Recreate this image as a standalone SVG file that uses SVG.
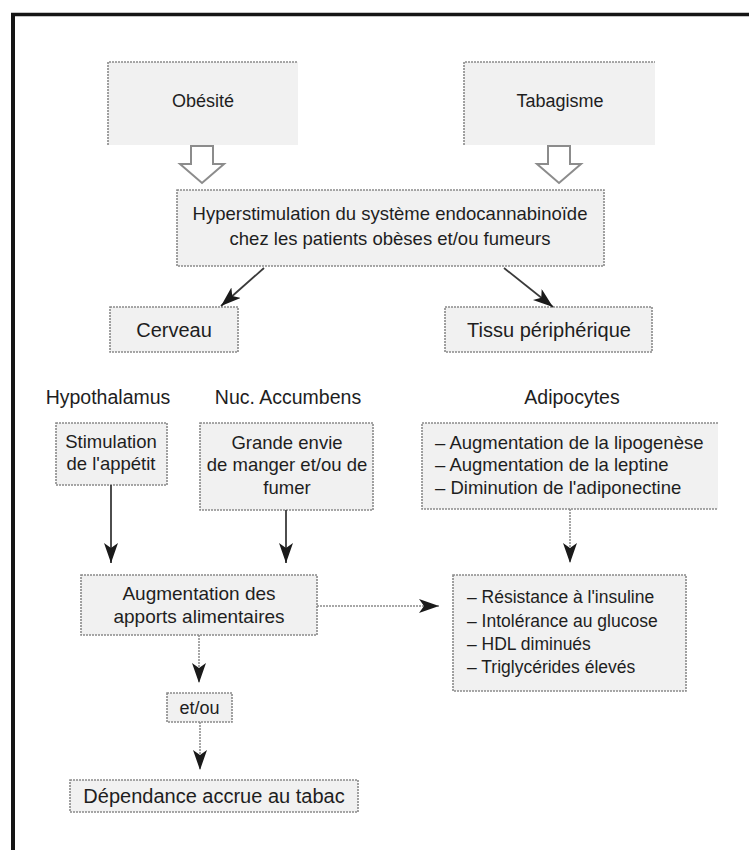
<svg xmlns="http://www.w3.org/2000/svg" width="749" height="850" viewBox="0 0 749 850">
<style>
  text { font-family: "Liberation Sans", Arial, sans-serif; fill: #1e1e1e; }
  .box { fill: #f1f1f1; stroke: #8a8a8a; stroke-width: 1.6; stroke-dasharray: 2 1; }
  .fill { fill: #f1f1f1; stroke: none; }
  .edge { fill: none; stroke: #8a8a8a; stroke-width: 1.6; stroke-dasharray: 2 1; }
  .hollow { fill: #ffffff; stroke: #8c8c8c; stroke-width: 2; }
  .dark { stroke: #3a3a3a; stroke-width: 1.8; fill: none; }
  .light { stroke: #8a8a8a; stroke-width: 1.5; fill: none; stroke-dasharray: 2 1; }
  .c { text-anchor: middle; }
</style>
<defs>
  <marker id="ah" markerUnits="userSpaceOnUse" markerWidth="22" markerHeight="16" refX="20" refY="7" orient="auto">
    <path d="M0,0 L20,7 L0,14 L5,7 z" fill="#1a1a1a"/>
  </marker>
</defs>
<rect x="0" y="0" width="749" height="850" fill="#ffffff"/>
<g id="frame">
  <line x1="11" y1="14.5" x2="749" y2="14.5" stroke="#151515" stroke-width="3.5"/>
  <line x1="13" y1="13" x2="13" y2="850" stroke="#151515" stroke-width="4"/>
</g>

<g id="obesite">
  <rect class="fill" x="108" y="62" width="190" height="83"/>
  <polyline class="edge" points="108,145 108,62 298,62"/>
  <text class="c" x="203" y="107" font-size="18">Obésité</text>
</g>
<g id="tabagisme">
  <rect class="fill" x="464" y="62" width="191" height="83"/>
  <polyline class="edge" points="464,145 464,62 655,62"/>
  <text class="c" x="560" y="107" font-size="18">Tabagisme</text>
</g>
<g id="hyper">
  <rect class="box" x="177" y="190" width="427" height="76"/>
  <text class="c" x="390" y="220" font-size="18.5">Hyperstimulation du système endocannabinoïde</text>
  <text class="c" x="390" y="245" font-size="18.5">chez les patients obèses et/ou fumeurs</text>
</g>
<g id="cerveau">
  <rect class="box" x="110" y="307" width="128" height="45"/>
  <text class="c" x="174" y="337" font-size="20">Cerveau</text>
</g>
<g id="tissu">
  <rect class="box" x="445" y="307" width="207" height="45"/>
  <text class="c" x="549" y="337" font-size="20">Tissu périphérique</text>
</g>
<g id="label-hypothalamus">
  <text class="c" x="108" y="404" font-size="19.5">Hypothalamus</text>
</g>
<g id="label-accumbens">
  <text class="c" x="288" y="404" font-size="19.5">Nuc. Accumbens</text>
</g>
<g id="label-adipocytes">
  <text class="c" x="572" y="404" font-size="19.5">Adipocytes</text>
</g>
<g id="stimulation">
  <rect class="box" x="56" y="423" width="111" height="62"/>
  <text class="c" x="111" y="448" font-size="18.5">Stimulation</text>
  <text class="c" x="111" y="470" font-size="18.5">de l'appétit</text>
</g>
<g id="envie">
  <rect class="box" x="200" y="423" width="173" height="87"/>
  <text class="c" x="287" y="449" font-size="18.5">Grande envie</text>
  <text class="c" x="287" y="471" font-size="18.5">de manger et/ou de</text>
  <text class="c" x="287" y="494" font-size="18.5">fumer</text>
</g>
<g id="adipocytes">
  <rect class="fill" x="422" y="423" width="296" height="86"/>
  <polyline class="edge" points="718,423 422,423 422,509 718,509"/>
  <text x="435" y="449" font-size="18.5">– Augmentation de la lipogenèse</text>
  <text x="435" y="471" font-size="18.5">– Augmentation de la leptine</text>
  <text x="435" y="494" font-size="18.5">– Diminution de l'adiponectine</text>
</g>
<g id="augmentation">
  <rect class="box" x="81" y="575" width="236" height="60"/>
  <text class="c" x="199" y="600" font-size="19">Augmentation des</text>
  <text class="c" x="199" y="623" font-size="19">apports alimentaires</text>
</g>
<g id="resistance">
  <rect class="box" x="453" y="575" width="233" height="116"/>
  <text x="467" y="603" font-size="17.5">– Résistance à l'insuline</text>
  <text x="467" y="627" font-size="17.5">– Intolérance au glucose</text>
  <text x="467" y="650" font-size="17.5">– HDL diminués</text>
  <text x="467" y="673" font-size="17.5">– Triglycérides élevés</text>
</g>
<g id="etou">
  <rect class="box" x="167" y="693" width="65" height="29"/>
  <text class="c" x="199.5" y="714" font-size="18">et/ou</text>
</g>
<g id="dependance">
  <rect class="box" x="70" y="780" width="288" height="32"/>
  <text class="c" x="214" y="803" font-size="20">Dépendance accrue au tabac</text>
</g>

<g id="connectors">
  <path class="hollow" d="M191,146 L213,146 L213,164 L224,164 L202,183 L180,164 L191,164 Z"/>
  <path class="hollow" d="M548,146 L570,146 L570,164 L581,164 L559,183 L537,164 L548,164 Z"/>
  <line class="dark" x1="264" y1="268" x2="221" y2="306" marker-end="url(#ah)"/>
  <line class="dark" x1="504" y1="268" x2="553" y2="307" marker-end="url(#ah)"/>
  <line class="dark" x1="111" y1="485" x2="111" y2="563" marker-end="url(#ah)"/>
  <line class="dark" x1="286" y1="510" x2="286" y2="563" marker-end="url(#ah)"/>
  <line class="light" x1="570" y1="509" x2="570" y2="563" marker-end="url(#ah)"/>
  <line class="light" x1="317" y1="606" x2="439" y2="606" marker-end="url(#ah)"/>
  <line class="light" x1="199" y1="635" x2="199" y2="683" marker-end="url(#ah)"/>
  <line class="light" x1="200" y1="722" x2="200" y2="770" marker-end="url(#ah)"/>
</g>
</svg>
